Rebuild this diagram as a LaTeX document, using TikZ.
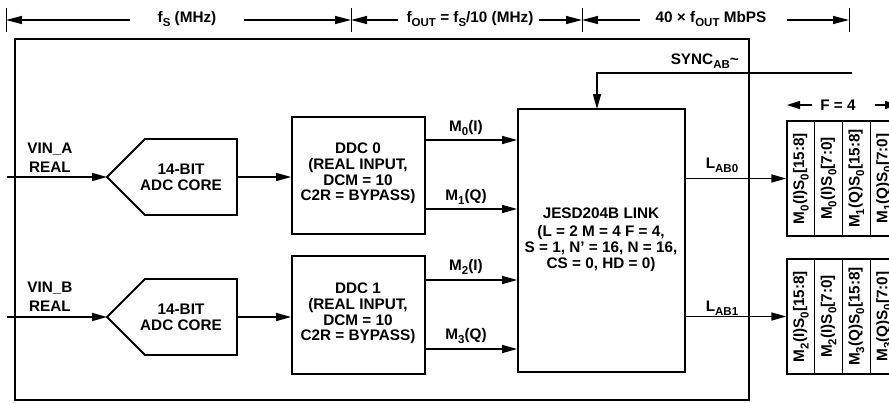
\documentclass[tikz,border=0pt]{standalone}
\usepackage{fontspec}
\setmainfont{Liberation Sans}
\usetikzlibrary{arrows.meta}
\newcommand\sbs[1]{\raisebox{-0.28em}{\fontsize{11.5}{11.5}\selectfont\bfseries #1}}
\begin{document}
\begin{tikzpicture}[x=1pt,y=-1pt,
  font=\fontsize{15.3}{15.6}\selectfont\bfseries,
  box/.style={draw, line width=1.8pt, inner sep=0pt},
  mainbox/.style={draw, line width=2pt, inner sep=0pt},
  sig/.style={line width=1.5pt, -{Triangle[length=15pt,width=8pt]}},
  dim/.style={line width=1.3pt, -{Triangle[length=16pt,width=8pt]}},
  farrow/.style={line width=1.3pt, -{Triangle[length=13pt,width=8pt]}},
  tick/.style={line width=1pt},
  lbl/.style={inner sep=0pt, align=center},
  lane/.style={draw, line width=1.4pt, inner sep=0pt, rotate=90,
    minimum width=115pt, minimum height=27.75pt}
]
\useasboundingbox (0,0) rectangle (889,402);
\clip (0,0) rectangle (889,402);

% top dimension line
\coordinate (t0) at (6,20);
\coordinate (t1) at (351,20);
\coordinate (t2) at (582,20);
\coordinate (t3) at (849,20);
\draw[tick] (6,8) -- (6,32);
\draw[tick] (351,8) -- (351,32);
\draw[tick] (582,8) -- (582,32);
\draw[tick] (849,8) -- (849,32);
\node[lbl] (fs) at (187,19) {f\sbs{S} (MHz)};
\node[lbl] (fout) at (470,19) {f\sbs{OUT} = f\sbs{S}/10 (MHz)};
\node[lbl] (rate) at (711,19) {40 × f\sbs{OUT} MbPS};
\coordinate (d0) at (130,20);
\coordinate (d1) at (244,20);
\coordinate (d2) at (398,20);
\coordinate (d3) at (539,20);
\coordinate (d4) at (640,20);
\coordinate (d5) at (787,20);
\draw[dim] (d0) -- (t0);
\draw[dim] (d1) -- (t1);
\draw[dim] (d2) -- (t1);
\draw[dim] (d3) -- (t2);
\draw[dim] (d4) -- (t2);
\draw[dim] (d5) -- (t3);

% main box
\node[mainbox, minimum width=734pt, minimum height=361pt] (main) at (382,219.5) {};

% ADC cores
\coordinate (adcAin) at (107,177);
\coordinate (adcAout) at (237,177);
\coordinate (adcBin) at (107,317);
\coordinate (adcBout) at (237,317);
\draw[box] (adcAin) -- (145,139) -- (237,139) -- (237,215) -- (145,215) -- cycle;
\draw[box] (adcBin) -- (145,279) -- (237,279) -- (237,355) -- (145,355) -- cycle;
\node[lbl] (adcA) at (181,177.5) {14-BIT\\ADC CORE};
\node[lbl] (adcB) at (181,317.5) {14-BIT\\ADC CORE};

% inputs
\coordinate (inA) at (7,177);
\coordinate (inB) at (7,317);
\node[lbl, font=\fontsize{15.3}{18.5}\selectfont\bfseries] (vinA) at (50,157.5) {VIN\_A\\REAL};
\node[lbl, font=\fontsize{15.3}{18.5}\selectfont\bfseries] (vinB) at (50,296.5) {VIN\_B\\REAL};
\draw[sig] (inA) -- (adcAin);
\draw[sig] (inB) -- (adcBin);

% DDC blocks
\node[box, minimum width=133pt, minimum height=117pt] (ddc0) at (358.5,175.5) {};
\node[box, minimum width=133pt, minimum height=118pt] (ddc1) at (358.5,315) {};
\node[lbl] (ddc0t) at (358,173.5) {DDC 0\\(REAL INPUT,\\DCM = 10\\C2R = BYPASS)};
\node[lbl] (ddc1t) at (358,313.5) {DDC 1\\(REAL INPUT,\\DCM = 10\\C2R = BYPASS)};
\draw[sig] (adcAout) -- (ddc0.west |- adcAout);
\draw[sig] (adcBout) -- (ddc1.west |- adcBout);

% JESD link
\node[box, minimum width=167pt, minimum height=263pt] (jesd) at (601.5,240.5) {};
\node[lbl] (jesdt) at (601,213) {JESD204B LINK};
\node[lbl] (jesdp) at (601,248.5) {(L = 2 M = 4 F = 4,\\S = 1, N’ = 16, N = 16,\\CS = 0, HD = 0)};

% M connections
\coordinate (m0) at (0,140);
\coordinate (m1) at (0,209);
\coordinate (m2) at (0,280);
\coordinate (m3) at (0,349);
\draw[sig] (ddc0.east |- m0) -- (jesd.west |- m0);
\draw[sig] (ddc0.east |- m1) -- (jesd.west |- m1);
\draw[sig] (ddc1.east |- m2) -- (jesd.west |- m2);
\draw[sig] (ddc1.east |- m3) -- (jesd.west |- m3);
\node[lbl] (m0l) at (466,128) {M\sbs{0}(I)};
\node[lbl] (m1l) at (466,197) {M\sbs{1}(Q)};
\node[lbl] (m2l) at (466,267) {M\sbs{2}(I)};
\node[lbl] (m3l) at (466,336) {M\sbs{3}(Q)};

% SYNC
\coordinate (syncR) at (852,73);
\coordinate (syncIn) at (597,109);
\draw[sig] (syncR) -| (syncIn);
\node[lbl, anchor=east] (syncl) at (739,61) {SYNC\sbs{AB}\textasciitilde};

% lanes
\node[lane] (a1) at (800.875,178.5) {M\sbs{0}(I)S\sbs{0}[15:8]};
\node[lane] (a2) at (828.625,178.5) {M\sbs{0}(I)S\sbs{0}[7:0]};
\node[lane] (a3) at (856.375,178.5) {M\sbs{1}(Q)S\sbs{0}[15:8]};
\node[lane] (a4) at (884.125,178.5) {M\sbs{1}(Q)S\sbs{0}[7:0]};
\node[lane] (b1) at (800.875,316.5) {M\sbs{2}(I)S\sbs{0}[15:8]};
\node[lane] (b2) at (828.625,316.5) {M\sbs{2}(I)S\sbs{0}[7:0]};
\node[lane] (b3) at (856.375,316.5) {M\sbs{3}(Q)S\sbs{0}[15:8]};
\node[lane] (b4) at (884.125,316.5) {M\sbs{3}(Q)S\sbs{0}[7:0]};

\draw[sig] (jesd.east |- a1.north) -- (a1.north);
\draw[sig] (jesd.east |- b1.north) -- (b1.north);
\node[lbl] (lab0) at (722,165) {L\sbs{AB0}};
\node[lbl] (lab1) at (722,308) {L\sbs{AB1}};

% F = 4
\node[lbl] (f4) at (838,105) {F = 4};
\coordinate (fL) at (787,105);
\coordinate (fR) at (898,105);
\draw[farrow] (812,105) -- (fL);
\draw[farrow] (875,105) -- (fR);
\end{tikzpicture}
\end{document}
